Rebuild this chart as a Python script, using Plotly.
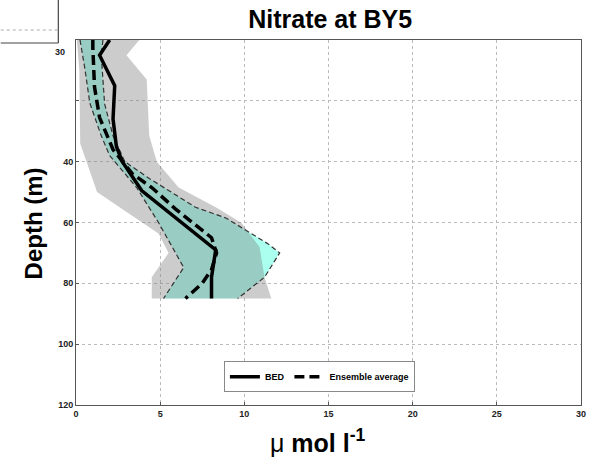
import plotly.graph_objects as go

# Nitrate profiles at station BY5 (depth in m, concentration in umol/l)

# grey envelope
grey_left_depth = [0, 10, 34, 50, 63.6, 70, 78, 85]
grey_left_val = [0.05, 0.2, 0.25, 1.25, 4.9, 5.5, 4.5, 4.5]
grey_right_depth = [0, 5, 13, 31.5, 40, 48.5, 55, 60, 68, 78, 85]
grey_right_val = [3.76, 3.0, 4.2, 4.35, 4.8, 6.1, 8.3, 9.8, 10.9, 11.2, 11.6]

# ensemble spread (cyan band)
ens_left_depth = [0, 9.5, 20.7, 31.5, 38, 48.5, 60, 74.8, 85]
ens_left_val = [0.24, 0.53, 0.82, 1.5, 2.0, 3.6, 4.9, 6.4, 5.2]
ens_right_depth = [0, 5, 21, 31.5, 40, 45.5, 55, 58.5, 67, 70, 78, 85]
ens_right_val = [1.6, 1.5, 1.7, 2.2, 2.9, 4.35, 7.1, 8.9, 11.4, 12.1, 11.2, 9.6]

# BED profile
bed_depth = [0, 5, 15, 26, 35, 40, 49.5, 60, 69, 78, 85]
bed_val = [2.0, 1.4, 2.3, 2.2, 2.4, 2.75, 3.9, 6.3, 8.3, 8.05, 8.05]

# ensemble average profile
avg_depth = [0, 2.5, 15.5, 25.5, 36, 44, 48.5, 55.5, 65, 70, 75.5, 80, 85]
avg_val = [1.0, 1.0, 1.1, 1.4, 2.2, 3.35, 4.5, 5.9, 8.05, 8.35, 8.05, 7.5, 6.5]

x_ticks = [0, 5, 10, 15, 20, 25, 30]
y_ticks = [40, 60, 80, 100, 120]


def band(ld, lv, rd, rv):
    xs = list(lv) + list(rv)[::-1] + [lv[0]]
    ys = list(ld) + list(rd)[::-1] + [ld[0]]
    return xs, ys


fig = go.Figure()

ex, ey = band(ens_left_depth, ens_left_val, ens_right_depth, ens_right_val)
fig.add_trace(go.Scatter(x=ex, y=ey, fill="toself", fillcolor="#aaffee",
                         line=dict(width=0), mode="lines",
                         showlegend=False, hoverinfo="skip"))

gx, gy = band(grey_left_depth, grey_left_val, grey_right_depth, grey_right_val)
fig.add_trace(go.Scatter(x=gx, y=gy, fill="toself",
                         fillcolor="rgba(128,128,128,0.4)",
                         line=dict(width=0), mode="lines",
                         showlegend=False, hoverinfo="skip"))

# dashed outline of the ensemble spread
for xs, ys in [(ens_left_val, ens_left_depth), (ens_right_val, ens_right_depth)]:
    fig.add_trace(go.Scatter(x=xs, y=ys, mode="lines",
                             line=dict(color="#333333", width=1.2, dash="5px,3px"),
                             showlegend=False, hoverinfo="skip"))

fig.add_trace(go.Scatter(x=bed_val, y=bed_depth, mode="lines", name="<b>BED</b>",
                         line=dict(color="black", width=3.5)))
fig.add_trace(go.Scatter(x=avg_val, y=avg_depth, mode="lines",
                         name="<b>Ensemble average</b>",
                         line=dict(color="black", width=3.5, dash="10px,5px")))

tick_font = dict(family="Arial", size=9, color="#222222")
grid = dict(showgrid=True, gridcolor="#bbbbbb", griddash="dot", gridwidth=1)

fig.update_layout(
    width=596, height=461,
    margin=dict(l=76, r=10, t=40, b=56),
    paper_bgcolor="white", plot_bgcolor="white",
    title=dict(text="<b>Nitrate at BY5</b>", x=0.554, xanchor="center",
               y=0.958, yanchor="middle",
               font=dict(family="Arial", size=25, color="black")),
    xaxis=dict(range=[0, 30], tickvals=x_ticks,
               ticktext=[f"<b>{v}</b>" for v in x_ticks],
               tickfont=tick_font, **grid, zeroline=False,
               showline=True, linecolor="#555555", mirror=True,
               ticks="inside", ticklen=3, tickcolor="#555555"),
    yaxis=dict(range=[120, 0], tickvals=y_ticks,
               ticktext=[f"<b>{t}</b>" for t in y_ticks],
               tickfont=tick_font, **grid, zeroline=False,
               showline=True, linecolor="#555555", mirror=True,
               ticks="inside", ticklen=3, tickcolor="#555555",
               minor=dict(tick0=0, dtick=20, showgrid=True,
                          gridcolor="#bbbbbb", griddash="dot",
                          ticks="inside", ticklen=3, tickcolor="#555555")),
    legend=dict(orientation="h", x=0.482, xanchor="center", y=0.035,
                yanchor="bottom", bgcolor="white", bordercolor="#888888",
                borderwidth=1,
                font=dict(family="Arial", size=9, color="black")),
)

# axis titles
fig.add_annotation(xref="paper", yref="paper", x=0.48, y=-36 / 365,
                   yanchor="middle", xanchor="center", showarrow=False,
                   text="\u03bc <b>mol l<sup>-1</sup></b>",
                   font=dict(family="Arial", size=25, color="black"))
fig.add_annotation(xref="paper", yref="paper", x=-43 / 510, y=(405 - 223) / 365,
                   xanchor="center", yanchor="middle", showarrow=False,
                   textangle=-90, text="<b>Depth (m)</b>",
                   font=dict(family="Arial", size=24, color="black"))

# edge of the neighbouring panel in the top-left corner
fig.add_shape(type="line", xref="paper", yref="paper",
              x0=-0.035, x1=-0.035, y0=1.0 + 40 / 365, y1=1.0 - 3 / 365,
              line=dict(color="#444444", width=1.2))
fig.add_shape(type="line", xref="paper", yref="paper",
              x0=-0.149, x1=-0.035, y0=1.0 - 3 / 365, y1=1.0 - 3 / 365,
              line=dict(color="#444444", width=1.2))
fig.add_shape(type="line", xref="paper", yref="paper",
              x0=-0.149, x1=-0.035, y0=1.0 + 10 / 365, y1=1.0 + 10 / 365,
              line=dict(color="#aaaaaa", width=1, dash="dot"))
fig.add_annotation(xref="paper", yref="paper", x=-0.031, y=1.0 - 12 / 365,
                   text="<b>30</b>", showarrow=False, xanchor="center",
                   yanchor="middle", font=tick_font)

fig.write_html("out.html")
